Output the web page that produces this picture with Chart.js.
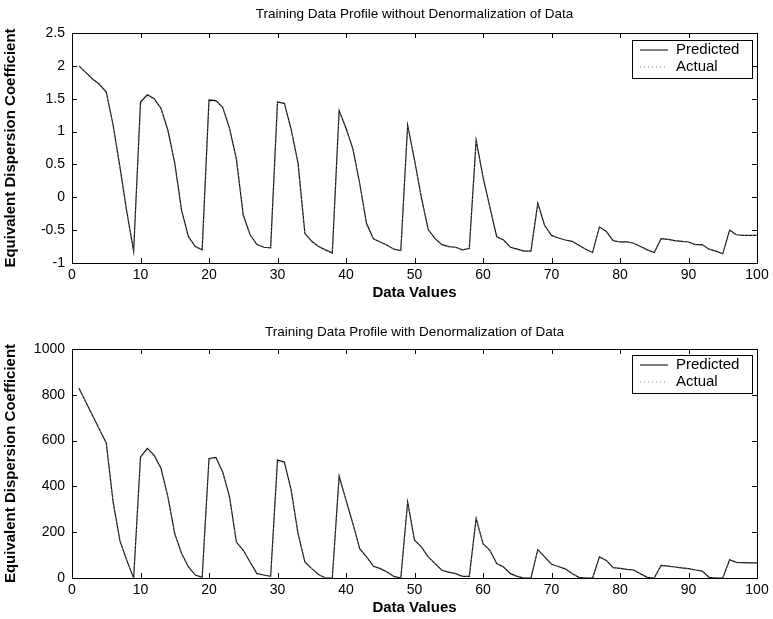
<!DOCTYPE html>
<html>
<head>
<meta charset="utf-8">
<script src="https://cdn.jsdelivr.net/npm/chart.js@4.4.1/dist/chart.umd.min.js"></script>
<style>
  body { margin: 0; background: #fff; }
  #wrap { position: relative; width: 773px; height: 619px; }
  canvas { position: absolute; left: 0; }
</style>
</head>
<body>
<div id="wrap">
  <canvas id="topChart" width="773" height="310" style="top:0"></canvas>
  <canvas id="bottomChart" width="773" height="309" style="top:310px"></canvas>
</div>
<script>
// Dados (índice 1..100)
const dataIndex = Array.from({ length: 100 }, (_, i) => i + 1);

const xTicks = [0, 10, 20, 30, 40, 50, 60, 70, 80, 90, 100];
const yTicksTop = [-1, -0.5, 0, 0.5, 1, 1.5, 2, 2.5];
const yTicksBottom = [0, 200, 400, 600, 800, 1000];

const predictedNorm = [
  2.0, 1.9, 1.8, 1.72, 1.6, 1.1, 0.46, -0.22, -0.82, 1.45,
  1.56, 1.5, 1.35, 1.02, 0.52, -0.2, -0.6, -0.75, -0.8, 1.48,
  1.47, 1.37, 1.05, 0.58, -0.27, -0.57, -0.72, -0.76, -0.77, 1.45,
  1.43, 1.03, 0.52, -0.55, -0.67, -0.75, -0.8, -0.85, 1.32, 1.05,
  0.74, 0.21, -0.4, -0.63, -0.68, -0.73, -0.79, -0.81, 1.1, 0.57,
  0.0, -0.49, -0.63, -0.72, -0.75, -0.76, -0.8, -0.78, 0.87, 0.31,
  -0.15, -0.6, -0.65, -0.76, -0.79, -0.82, -0.82, -0.09, -0.43, -0.58,
  -0.62, -0.65, -0.67, -0.73, -0.79, -0.84, -0.45, -0.52, -0.66, -0.68,
  -0.68, -0.7, -0.75, -0.8, -0.84, -0.63, -0.64, -0.66, -0.67, -0.68,
  -0.72, -0.72, -0.79, -0.82, -0.86, -0.5, -0.57, -0.58, -0.58, -0.58
];
const actualNorm = [
  2.0, 1.9, 1.8, 1.72, 1.6, 1.08, 0.44, -0.24, -0.82, 1.42,
  1.52, 1.5, 1.35, 1.0, 0.5, -0.22, -0.6, -0.76, -0.8, 1.45,
  1.46, 1.37, 1.04, 0.56, -0.28, -0.58, -0.72, -0.76, -0.77, 1.43,
  1.42, 1.02, 0.5, -0.56, -0.67, -0.75, -0.8, -0.85, 1.3, 1.04,
  0.72, 0.2, -0.42, -0.63, -0.68, -0.73, -0.79, -0.81, 1.08, 0.56,
  0.0, -0.5, -0.64, -0.72, -0.75, -0.76, -0.8, -0.78, 0.85, 0.3,
  -0.16, -0.6, -0.66, -0.76, -0.79, -0.82, -0.82, -0.1, -0.44, -0.58,
  -0.62, -0.65, -0.68, -0.73, -0.79, -0.84, -0.46, -0.53, -0.66, -0.68,
  -0.68, -0.7, -0.75, -0.8, -0.84, -0.64, -0.64, -0.66, -0.67, -0.68,
  -0.72, -0.73, -0.79, -0.82, -0.86, -0.52, -0.57, -0.58, -0.58, -0.58
];

const predictedDenorm = [
  830, 770, 710, 650, 590, 332, 162, 77, 0, 529,
  566, 536, 478, 354, 194, 107, 48, 13, 3, 522,
  527, 463, 354, 157, 121, 70, 19, 13, 7, 515,
  507, 383, 194, 70, 41, 15, 0, 0, 445, 340,
  238, 128, 92, 51, 41, 26, 7, 0, 332, 165,
  136, 92, 63, 34, 26, 19, 7, 7, 260, 150,
  121, 63, 48, 19, 7, 0, 0, 124, 92, 60,
  50, 40, 20, 3, 0, 0, 92, 77, 45, 42,
  38, 35, 18, 3, 0, 55, 52, 48, 44, 41,
  35, 30, 3, 0, 0, 80, 68, 67, 66, 66
];
const actualDenorm = [
  830, 770, 710, 650, 590, 330, 160, 75, 0, 520,
  555, 530, 475, 350, 190, 105, 46, 12, 3, 515,
  522, 460, 350, 155, 120, 68, 18, 12, 7, 508,
  502, 380, 190, 68, 40, 14, 0, 0, 440, 336,
  235, 126, 90, 50, 40, 25, 7, 0, 328, 163,
  134, 90, 62, 33, 25, 18, 7, 7, 256, 148,
  120, 62, 47, 18, 7, 0, 0, 122, 90, 59,
  49, 39, 19, 3, 0, 0, 90, 75, 44, 41,
  37, 34, 17, 3, 0, 54, 51, 47, 43, 40,
  34, 29, 3, 0, 0, 78, 67, 66, 65, 65
];

const FONT = 'Arial, "Liberation Sans", sans-serif';

function toPoints(values) {
  return values.map((v, i) => ({ x: dataIndex[i], y: v }));
}

// Moldura estilo MATLAB: caixa, ticks para dentro, título e legenda
const matlabFrame = {
  id: 'matlabFrame',
  afterDraw(chart, args, opts) {
    const ctx = chart.ctx;
    const a = chart.chartArea;
    const xs = chart.scales.x;
    const ys = chart.scales.y;
    ctx.save();
    ctx.strokeStyle = '#000';
    ctx.lineWidth = 1;
    ctx.strokeRect(Math.round(a.left) + 0.5, Math.round(a.top) + 0.5,
      Math.round(a.right - a.left), Math.round(a.bottom - a.top));
    ctx.beginPath();
    xTicks.forEach(function(v) {
      const px = Math.round(xs.getPixelForValue(v)) + 0.5;
      ctx.moveTo(px, a.bottom); ctx.lineTo(px, a.bottom - 5);
      ctx.moveTo(px, a.top); ctx.lineTo(px, a.top + 5);
    });
    opts.yTicks.forEach(function(v) {
      const py = Math.round(ys.getPixelForValue(v)) + 0.5;
      ctx.moveTo(a.left, py); ctx.lineTo(a.left + 5, py);
      ctx.moveTo(a.right, py); ctx.lineTo(a.right - 5, py);
    });
    ctx.stroke();

    // título
    ctx.fillStyle = '#000';
    ctx.font = '13.5px ' + FONT;
    ctx.textAlign = 'center';
    ctx.textBaseline = 'middle';
    ctx.fillText(opts.title, (a.left + a.right) / 2, opts.titleY);

    // legenda
    const bw = 120, bh = 38;
    const bx = a.right - 5 - bw, by = a.top + opts.legendTop;
    ctx.fillStyle = '#fff';
    ctx.fillRect(bx, by, bw, bh);
    ctx.strokeStyle = '#000';
    ctx.strokeRect(Math.round(bx) + 0.5, Math.round(by) + 0.5, bw, bh);
    const y1 = by + 10, y2 = by + 27;
    ctx.beginPath();
    ctx.moveTo(bx + 8, y1); ctx.lineTo(bx + 36, y1);
    ctx.stroke();
    ctx.setLineDash([1, 3]);
    ctx.strokeStyle = '#888';
    ctx.beginPath();
    ctx.moveTo(bx + 8, y2); ctx.lineTo(bx + 36, y2);
    ctx.stroke();
    ctx.setLineDash([]);
    ctx.fillStyle = '#000';
    ctx.font = '15px ' + FONT;
    ctx.textAlign = 'left';
    ctx.fillText('Predicted', bx + 44, y1);
    ctx.fillText('Actual', bx + 44, y2);
    ctx.restore();
  }
};

function makeChart(id, cfg) {
  const ctx = document.getElementById(id).getContext('2d');
  return new Chart(ctx, {
    type: 'line',
    data: {
      datasets: [{
        label: 'Actual',
        data: toPoints(cfg.actual),
        borderColor: '#888',
        borderWidth: 1,
        borderDash: [1, 3],
        pointRadius: 0,
        tension: 0
      }, {
        label: 'Predicted',
        data: toPoints(cfg.predicted),
        borderColor: '#111',
        borderWidth: 1.2,
        pointRadius: 0,
        tension: 0
      }]
    },
    options: {
      responsive: false,
      animation: false,
      devicePixelRatio: 1,
      layout: { padding: { top: cfg.areaTop, right: 16, left: 0, bottom: 0 } },
      plugins: {
        legend: { display: false },
        tooltip: { enabled: false },
        matlabFrame: {
          title: cfg.title,
          titleY: cfg.titleY,
          yTicks: cfg.yTicks,
          legendTop: cfg.legendTop
        }
      },
      scales: {
        x: {
          type: 'linear',
          min: 0,
          max: 100,
          afterBuildTicks: function(scale) {
            scale.ticks = xTicks.map(v => ({ value: v }));
          },
          afterFit: function(scale) { scale.height = cfg.xAxisHeight; },
          grid: { display: false, drawTicks: false },
          border: { display: false },
          ticks: {
            color: '#000', font: { family: FONT, size: 14 }, padding: 4, maxRotation: 0,
            callback: v => String(v)
          },
          title: {
            display: true,
            text: 'Data Values',
            color: '#000',
            font: { family: FONT, size: 15, weight: 'bold' },
            padding: { top: 0, bottom: cfg.xTitlePad }
          }
        },
        y: {
          min: cfg.yTicks[0],
          max: cfg.yTicks[cfg.yTicks.length - 1],
          afterBuildTicks: function(scale) {
            scale.ticks = cfg.yTicks.map(v => ({ value: v }));
          },
          afterFit: function(scale) { scale.width = 72; },
          grid: { display: false, drawTicks: false },
          border: { display: false },
          ticks: {
            color: '#000', font: { family: FONT, size: 14 }, padding: 7,
            callback: v => String(v)
          },
          title: {
            display: true,
            text: 'Equivalent Dispersion Coefficient',
            color: '#000',
            font: { family: FONT, size: 15, weight: 'bold' },
            padding: { top: 2, bottom: 0 }
          }
        }
      }
    },
    plugins: [matlabFrame]
  });
}

document.addEventListener('DOMContentLoaded', function() {
  makeChart('topChart', {
    predicted: predictedNorm,
    actual: actualNorm,
    yTicks: yTicksTop,
    title: 'Training Data Profile without Denormalization of Data',
    titleY: 14,
    areaTop: 33,
    xAxisHeight: 47,
    xTitlePad: 8,
    legendTop: 7
  });
  makeChart('bottomChart', {
    predicted: predictedDenorm,
    actual: actualDenorm,
    yTicks: yTicksBottom,
    title: 'Training Data Profile with Denormalization of Data',
    titleY: 22,
    areaTop: 39,
    xAxisHeight: 41,
    xTitlePad: 2,
    legendTop: 6
  });
});
</script>
</body>
</html>
